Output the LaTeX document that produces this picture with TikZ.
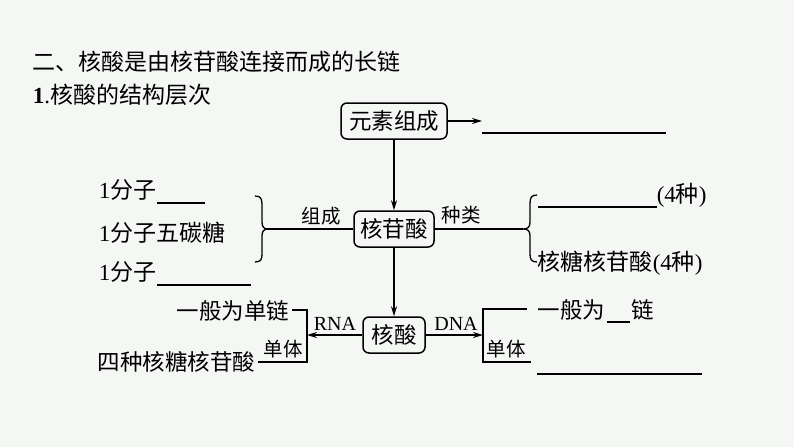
\documentclass[tikz,border=0pt]{standalone}
\usepackage{fontspec}
\setmainfont{Liberation Serif}
\newfontfamily\cjk{Noto Sans CJK SC}
\usetikzlibrary{arrows.meta}
\definecolor{bgc}{RGB}{244,247,244}
\begin{document}
\begin{tikzpicture}[x=1pt,y=-1pt,line width=1.5pt,
  box/.style={draw,rounded corners=6pt,inner sep=0pt,minimum height=36pt,font=\fontsize{22.5}{22.5}\selectfont\cjk},
  txt/.style={inner sep=0pt,anchor=west,font=\fontsize{23}{23}\selectfont},
  ctxt/.style={txt,font=\fontsize{22.5}{22.5}\selectfont\cjk},
  lbl/.style={inner sep=0pt,font=\fontsize{20}{20}\selectfont},
  clbl/.style={lbl,font=\fontsize{19.5}{19.5}\selectfont\cjk},
  arr/.style={-{Stealth[length=10pt,width=6pt]}},
  brace/.style={line width=1.3pt}]
\fill[bgc] (0,0) rectangle (794,447);
\useasboundingbox (0,0) rectangle (794,447);
% headings
\node[inner sep=0pt,anchor=west,font=\fontsize{23}{23}\selectfont\cjk] (title) at (32,62) {二、核酸是由核苷酸连接而成的长链};
\node[inner sep=0pt,anchor=west,font=\fontsize{23}{23}\selectfont] (sub) at (32,95) {\textbf{1}.{\cjk 核酸的结构层次}};
% boxes
\node[box,minimum width=106pt] (elem) at (394,121) {元素组成};
\node[box,minimum width=80pt] (nuc) at (394,229) {核苷酸};
\node[box,minimum width=62pt] (na) at (394,335) {核酸};
% top
\coordinate (e1) at (482,121);
\draw[arr] (elem.east) -- (e1);
\coordinate (b1s) at (482,133); \coordinate (b1e) at (666,133);
\draw (b1s) -- (b1e);
\draw[arr] (elem.south) -- (nuc.north);
\draw[arr] (nuc.south) -- (na.north);
% left brace
\coordinate (lb) at (267,229);
\draw (nuc.west) -- (lb);
\node[clbl] (zc) at (321,216) {组成};
\draw[brace] (255,196) .. controls (261,196) and (262,199) .. (262,205) -- (262,222) .. controls (262,227) and (264,229) .. (268,229) .. controls (264,229) and (262,231) .. (262,236) -- (262,254) .. controls (262,259) and (261,262) .. (255,262);
\node[txt] (l1) at (98,190) {1{\cjk 分子}};
\coordinate (u1a) at (157,203); \coordinate (u1b) at (205,203);
\draw (u1a) -- (u1b);
\node[txt] (l2) at (98,233) {1{\cjk 分子五碳糖}};
\node[txt] (l3) at (98,272) {1{\cjk 分子}};
\coordinate (u3a) at (157,285); \coordinate (u3b) at (251,285);
\draw (u3a) -- (u3b);
% right brace
\coordinate (rb) at (523,229);
\draw (nuc.east) -- (rb);
\node[clbl] (zl) at (461,215) {种类};
\draw[brace] (537,195) .. controls (531,195) and (530,198) .. (530,204) -- (530,222) .. controls (530,227) and (528,229) .. (523,229) .. controls (528,229) and (530,231) .. (530,236) -- (530,254) .. controls (530,259) and (531,262) .. (537,262);
\coordinate (u2a) at (538,207); \coordinate (u2b) at (657,207);
\draw (u2a) -- (u2b);
\node[txt] (r1) at (656,195) {(4{\cjk 种})};
\node[txt] (r2) at (537,263) {{\cjk 核糖核苷酸}(4{\cjk 种})};
% RNA side
\coordinate (rt) at (307,335);
\draw[arr] (na.west) -- (rt);
\node[lbl] (rna) at (335,324) {RNA};
\coordinate (lk1) at (292,310); \coordinate (lk2) at (307,310);
\coordinate (lk3) at (307,362); \coordinate (lk4) at (258,362);
\draw (lk1) -- (lk2) -- (lk3) -- (lk4);
\node[clbl] (dt1) at (283,349) {单体};
\node[ctxt,anchor=east] (rs) at (290,311) {一般为单链};
\node[ctxt,anchor=east] (rm) at (256,362) {四种核糖核苷酸};
% DNA side
\coordinate (dtip) at (483,335);
\draw[arr] (na.east) -- (dtip);
\node[lbl] (dna) at (456,324) {DNA};
\coordinate (rk1) at (527,309); \coordinate (rk2) at (483,309);
\coordinate (rk3) at (483,362); \coordinate (rk4) at (531,362);
\draw (rk1) -- (rk2) -- (rk3) -- (rk4);
\node[clbl] (dt2) at (506,349) {单体};
\node[ctxt] (ds) at (537,310) {一般为};
\coordinate (u4a) at (607,322); \coordinate (u4b) at (630,322);
\draw (u4a) -- (u4b);
\node[ctxt] (ds2) at (631,310) {链};
\coordinate (u5a) at (537,374); \coordinate (u5b) at (702,374);
\draw (u5a) -- (u5b);
\end{tikzpicture}
\end{document}
